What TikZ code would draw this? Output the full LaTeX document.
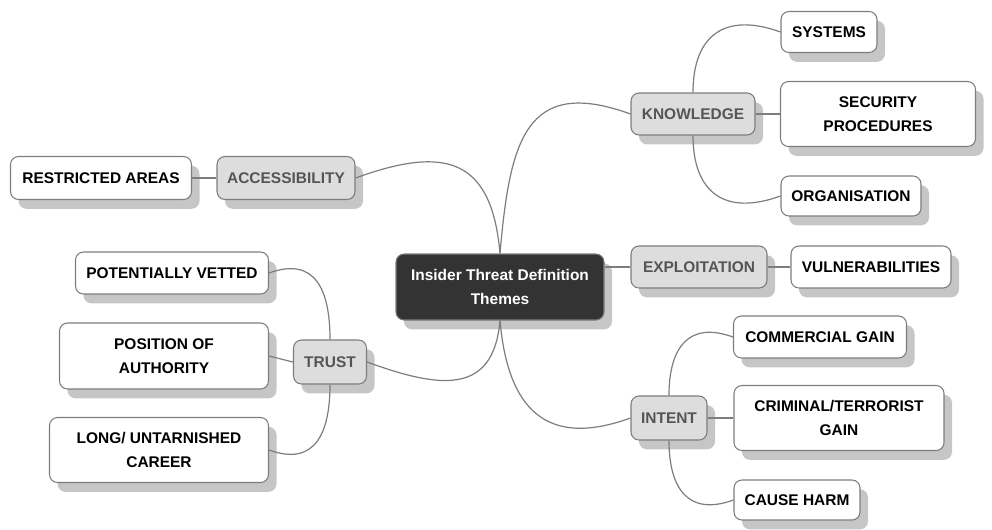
\documentclass[tikz,border=0pt]{standalone}
\usepackage{fontspec}
\setmainfont{Liberation Sans}
\definecolor{HubDark}{RGB}{51,51,51}
\definecolor{ThemeGrey}{RGB}{221,221,221}
\definecolor{ThemeText}{RGB}{85,85,85}
\definecolor{EdgeGrey}{RGB}{125,125,125}
\definecolor{ShadeGrey}{RGB}{198,198,198}
\usetikzlibrary{shadows}

\begin{document}
\begin{tikzpicture}[x=0.75pt, y=-0.75pt,
      every node/.style={font={\fontsize{11.6}{18}\selectfont\bfseries}, align=center},
      box/.style={draw=EdgeGrey, rounded corners=6pt, inner sep=2pt, line width=0.8pt,
                  drop shadow={shadow xshift=6pt, shadow yshift=-7pt, fill=ShadeGrey, opacity=1}},
      dims/.style 2 args={minimum width=#1*0.75pt, minimum height=#2*0.75pt},
      hub/.style={box, fill=HubDark, text=white},
      theme/.style={box, fill=ThemeGrey, text=ThemeText},
      leaf/.style={box, fill=white, text=black},
      link/.style={draw=EdgeGrey, line width=0.9pt}
  ]
    \useasboundingbox (0,0) rectangle (992,529);

    \node[hub, dims={208}{66}] (core) at (500,287) {Insider Threat Definition\\Themes};

    \node[theme, dims={124}{42}] (know) at (693,114) {KNOWLEDGE};
    \node[leaf, dims={96}{41}] (sys) at (829,32) {SYSTEMS};
    \node[leaf, dims={195}{65}] (proc) at (878,114) {SECURITY\\PROCEDURES};
    \node[leaf, dims={140}{40}] (org) at (851,196) {ORGANISATION};

    \node[theme, dims={136}{42}] (expl) at (699,267) {EXPLOITATION};
    \node[leaf, dims={160}{42}] (vuln) at (871,267) {VULNERABILITIES};

    \node[theme, dims={76}{44}] (intent) at (669,418) {INTENT};
    \node[leaf, dims={173}{42}] (comm) at (820,337) {COMMERCIAL GAIN};
    \node[leaf, dims={210}{65}] (crim) at (839,418) {CRIMINAL/TERRORIST\\GAIN};
    \node[leaf, dims={126}{40}] (harm) at (797,500) {CAUSE HARM};

    \node[theme, dims={138}{43}] (access) at (286,178) {ACCESSIBILITY};
    \node[leaf, dims={181}{43}] (areas) at (101,178) {RESTRICTED AREAS};

    \node[theme, dims={73}{44}] (trust) at (330,362) {TRUST};
    \node[leaf, dims={193}{42}] (vetted) at (172,273) {POTENTIALLY VETTED};
    \node[leaf, dims={209}{66}] (auth) at (164,356) {POSITION OF\\AUTHORITY};
    \node[leaf, dims={219}{65}] (career) at (159,450) {LONG/ UNTARNISHED\\CAREER};

    % hub to themes
    \draw[link] (core.north) to[out=95, in=20, looseness=1.5] (access.east);
    \draw[link] (core.north) to[out=85, in=160, looseness=1.5] (know.west);
    \draw[link] (core.east |- expl.west) -- (expl.west);
    \draw[link] (core.south) to[out=-85, in=200, looseness=1.4] (intent.west);
    \draw[link] (core.south) to[out=-95, in=-20, looseness=1.4] (trust.east);

    % themes to leaves
    \draw[link] (know.north) to[out=90, in=160, looseness=1.4] (sys.west);
    \draw[link] (know.east) -- (proc.west);
    \draw[link] (know.south) to[out=-90, in=200, looseness=1.4] (org.west);
    \draw[link] (expl.east) -- (vuln.west);
    \draw[link] (intent.north) to[out=90, in=160, looseness=1.4] (comm.west);
    \draw[link] (intent.east) -- (crim.west);
    \draw[link] (intent.south) to[out=-90, in=200, looseness=1.4] (harm.west);
    \draw[link] (access.west) -- (areas.east);
    \draw[link] (trust.north) to[out=90, in=20, looseness=1.4] (vetted.east);
    \draw[link] (trust.west) -- (auth.east);
    \draw[link] (trust.south) to[out=-90, in=-20, looseness=1.4] (career.east);
  \end{tikzpicture}
\end{document}
